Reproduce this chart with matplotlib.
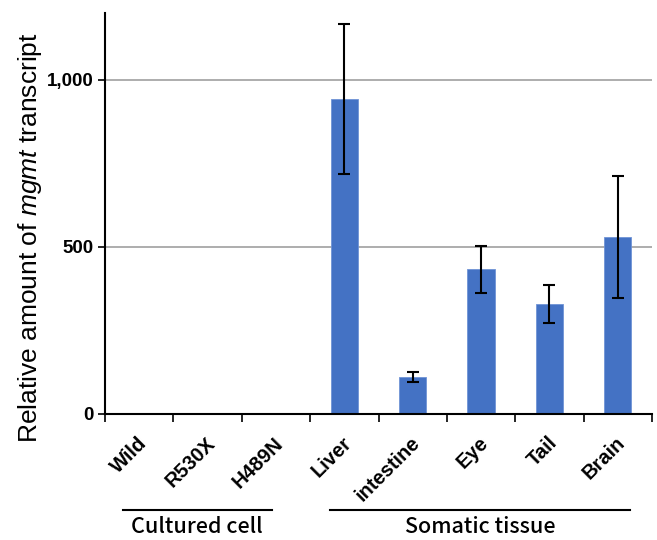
import matplotlib
matplotlib.use("Agg")
import matplotlib.pyplot as plt
from matplotlib import font_manager
from matplotlib.ticker import FixedLocator, FuncFormatter
import matplotlib.transforms as mtransforms
import numpy as np
import os

categories = ["Wild", "R530X", "H489N", "Liver", "intestine", "Eye", "Tail", "Brain"]
values = [2, 2, 2, 942, 110, 433, 329, 530]
errors = [0, 0, 0, 225, 15, 70, 57, 182]
groups = ["Cultured cell", "Somatic tissue"]
y_ticks = [0, 500, 1000]

def find_font(name):
    for f in font_manager.findSystemFonts():
        if os.path.basename(f).lower() == name.lower():
            return f
    return None

bold_path = find_font("LiberationSans-Bold.ttf")

def fp(path, size, weight='normal'):
    if path:
        return font_manager.FontProperties(fname=path, size=size)
    return font_manager.FontProperties(family='DejaVu Sans', size=size, weight=weight)

plt.rcParams['font.family'] = ['Liberation Sans', 'DejaVu Sans']
plt.rcParams['mathtext.fontset'] = 'custom'
plt.rcParams['mathtext.it'] = 'Liberation Sans:italic'
plt.rcParams['mathtext.rm'] = 'Liberation Sans'

fig = plt.figure(figsize=(6.57, 5.4), dpi=100)
ax = fig.add_axes([105/657, (540-414)/540, (652-105)/657, (414-13)/540])

x = np.arange(len(categories))
ax.bar(x, values, width=0.4, color="#4472C4", edgecolor="#6f93d6", linewidth=0.6, zorder=3)
ax.errorbar(x[3:], values[3:], yerr=errors[3:], fmt='none', ecolor='black',
            elinewidth=1.5, capsize=4, capthick=1.5, zorder=4)

ax.set_xlim(-0.5, len(categories) - 0.5)
ax.set_ylim(0, 1200)
for yv in y_ticks[1:]:
    ax.axhline(yv, color="#a0a0a0", linewidth=1.2, zorder=1)

for s in ["top", "right"]:
    ax.spines[s].set_visible(False)
for s in ["left", "bottom"]:
    ax.spines[s].set_linewidth(1.5)
    ax.spines[s].set_zorder(5)

ax.yaxis.set_major_locator(FixedLocator(y_ticks))
ax.yaxis.set_major_formatter(FuncFormatter(lambda v, p: f"{int(v):,}"))
ax.tick_params(axis='y', direction='out', length=5, width=1.2, pad=3)
for lbl in ax.get_yticklabels():
    lbl.set_fontproperties(fp(bold_path, 13.5, 'bold'))

ax.xaxis.set_major_locator(FixedLocator(np.arange(-0.5, len(categories), 1.0)))
ax.xaxis.set_major_formatter(FuncFormatter(lambda v, p: ""))
ax.xaxis.set_minor_locator(FixedLocator(x))
ax.set_xticklabels(categories, minor=True, rotation=45, ha='right',
                   rotation_mode='anchor')
ax.tick_params(axis='x', which='major', direction='out', length=6, width=1.2)
ax.tick_params(axis='x', which='minor', length=0, pad=14)
shift = mtransforms.ScaledTranslation(-2/100, 0, fig.dpi_scale_trans)
for lbl in ax.get_xticklabels(minor=True):
    lbl.set_fontproperties(fp(bold_path, 14.5, 'bold'))
    lbl.set_transform(lbl.get_transform() + shift)

ax.set_ylabel(r"Relative amount of $\mathit{mgmt}$ transcript", fontsize=19)
ax.yaxis.set_label_coords(-0.112, 0.44)

trans = mtransforms.blended_transform_factory(ax.transData, fig.transFigure)
line_y = (540 - 510) / 540
text_y = (540 - 527) / 540
spans = [(-0.24, 1.94), (2.79, 7.18)]
for (a, b), g in zip(spans, groups):
    ax.plot([a, b], [line_y, line_y], transform=trans, color='black', linewidth=1.5, clip_on=False)
    fig.text((a + b) / 2, text_y, g, transform=trans, ha='center', va='center',
             fontsize=15.5, fontweight='medium', family=['Noto Sans CJK JP', 'DejaVu Sans'])

fig.savefig("out.png", dpi=100)
